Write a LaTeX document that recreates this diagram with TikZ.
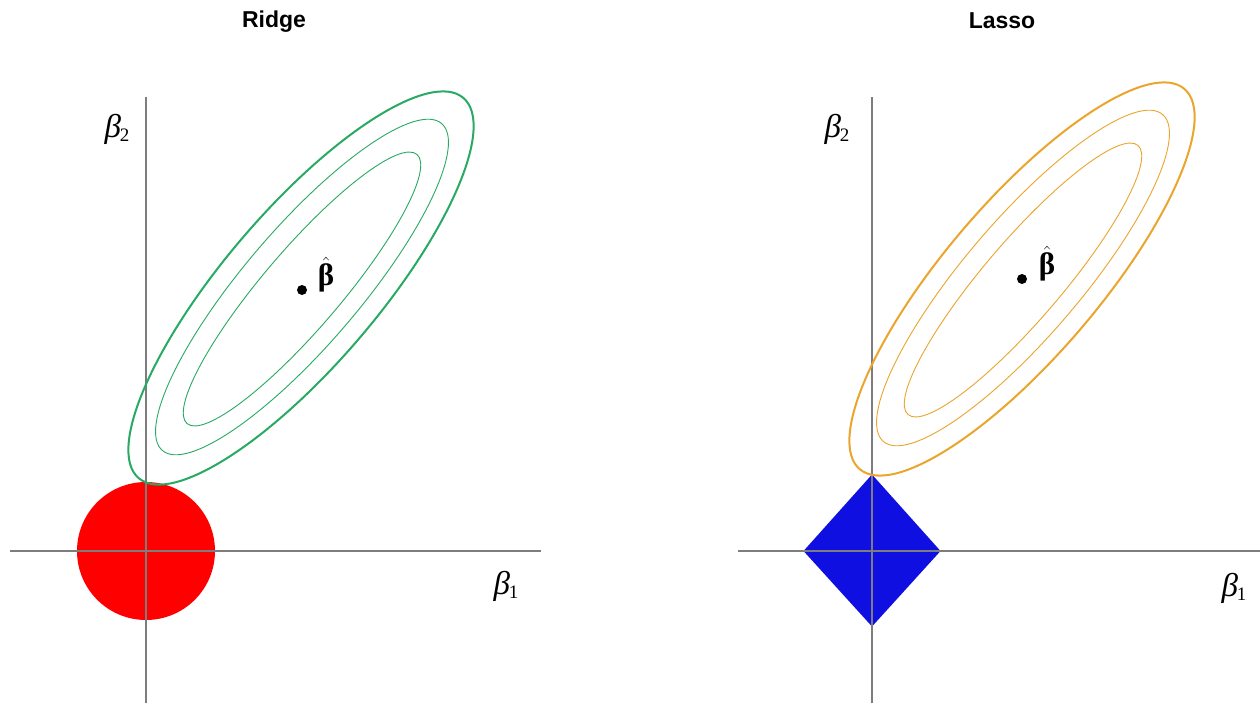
\documentclass[tikz,border=0pt]{standalone}
\usepackage{fontspec}
\setmainfont{Liberation Serif}
\newfontfamily\titlefont{Liberation Sans}
\definecolor{axisgray}{RGB}{125,125,125}
\definecolor{ridgegreen}{RGB}{40,170,100}
\definecolor{lassoorange}{RGB}{235,165,45}
\definecolor{ballred}{RGB}{255,0,0}
\definecolor{diamblue}{RGB}{15,15,225}
\tikzset{
  axisline/.style={draw=axisgray, line width=1.3pt},
  outerc/.style={line width=2pt},
  innerc/.style={line width=0.9pt},
  titletext/.style={font=\titlefont\bfseries\fontsize{23}{23}\selectfont, inner sep=0pt},
  betalabel/.style={font=\fontsize{33}{33}\selectfont, inner sep=0pt},
  hatlabel/.style={font=\fontsize{31}{31}\selectfont, inner sep=0pt},
  dotmark/.style={fill=black, draw=none}
}
\newcommand{\bsub}[1]{\textit{β}\kern-1pt\raisebox{-0.3ex}{\fontsize{19}{19}\selectfont #1}}
\newcommand{\bhat}{$\hat{\mbox{\bfseries β}}$}
\begin{document}
\begin{tikzpicture}[x=1pt,y=1pt]
\useasboundingbox[fill=white] (0,0) rectangle (1260,705);
% ---------- Ridge ----------
\coordinate (LO) at (146,154);
\coordinate (LT) at (146,608);
\coordinate (LB) at (146,2);
\coordinate (LL) at (10,154);
\coordinate (LR) at (541,154);
\fill[ballred] (LO) circle (69);
\draw[axisline] (LB) -- (LT);
\draw[axisline] (LL) -- (LR);
\draw[ridgegreen, outerc, rotate around={49.5:(301,417)}] (301,417) ellipse (250 and 77);
\draw[ridgegreen, innerc, rotate around={49.5:(302,418)}] (302,418) ellipse (215 and 58);
\draw[ridgegreen, innerc, rotate around={49.5:(302,416)}] (302,416) ellipse (177 and 39);
\fill[dotmark] (302,415) circle (5);
\node[hatlabel] (lhat) at (326,430) {\bhat};
\node[betalabel] (lb2) at (117,576) {\bsub{2}};
\node[betalabel] (lb1) at (506,119) {\bsub{1}};
\node[titletext] (ltitle) at (274,683) {Ridge};
% ---------- Lasso ----------
\coordinate (RO) at (872,154);
\coordinate (RT) at (872,608);
\coordinate (RB) at (872,2);
\coordinate (RL) at (738,154);
\coordinate (RR) at (1260,154);
\fill[diamblue] (872,230.5) -- (940.5,154) -- (872,78.5) -- (803.5,154) -- cycle;
\draw[axisline] (RB) -- (RT);
\draw[axisline] (RL) -- (RR);
\draw[lassoorange, outerc, rotate around={49.5:(1022,426)}] (1022,426) ellipse (250 and 77);
\draw[lassoorange, innerc, rotate around={49.5:(1023,427)}] (1023,427) ellipse (215 and 58);
\draw[lassoorange, innerc, rotate around={49.5:(1023,425)}] (1023,425) ellipse (177 and 39);
\fill[dotmark] (1022,426) circle (5);
\node[hatlabel] (rhat) at (1047,441) {\bhat};
\node[betalabel] (rb2) at (837,576) {\bsub{2}};
\node[betalabel] (rb1) at (1234,117) {\bsub{1}};
\node[titletext] (rtitle) at (1002,684) {Lasso};
\end{tikzpicture}
\end{document}
